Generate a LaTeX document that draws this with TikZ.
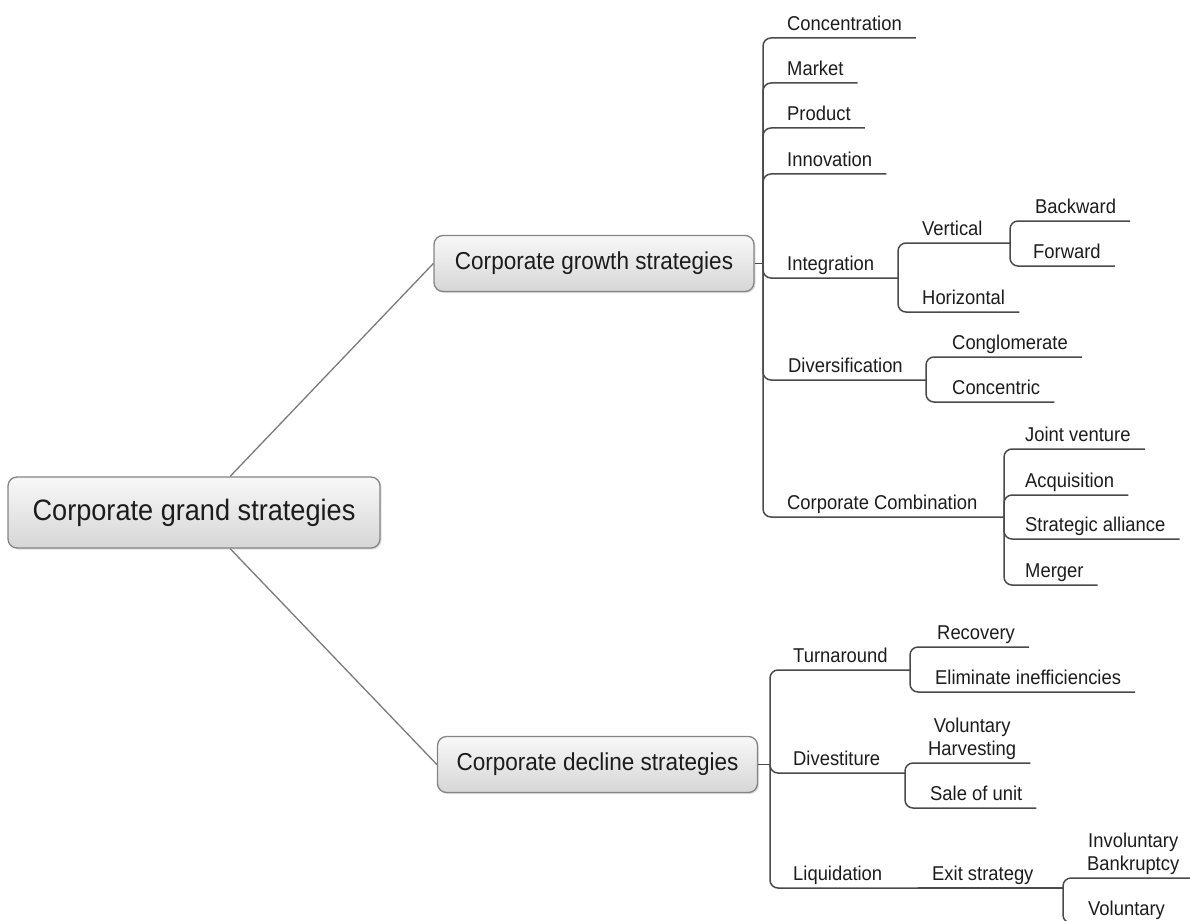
\documentclass[tikz,border=0pt]{standalone}
\usepackage{fontspec}
\setmainfont{Liberation Sans}[FakeStretch=0.92]
\usetikzlibrary{shadows}
\definecolor{linegray}{HTML}{4A4A4A}
\definecolor{spokegray}{HTML}{7A7A7A}
\definecolor{boxedge}{HTML}{848484}
\definecolor{boxtop}{HTML}{F8F8F8}
\definecolor{boxbottom}{HTML}{D6D6D6}
\definecolor{textgray}{HTML}{1C1C1C}

\begin{document}
\begin{tikzpicture}[x=1pt, y=-1pt,
    topic/.style={draw=boxedge, line width=1.3pt, rounded corners=9pt,
      top color=boxtop, bottom color=boxbottom, text=textgray,
      drop shadow={opacity=0.25, shadow xshift=1.5pt, shadow yshift=-1.5pt}},
    rootbox/.style={topic, font=\fontsize{29.5}{32}\selectfont,
      minimum width=372pt, minimum height=71pt},
    mainbox/.style={topic, font=\fontsize{24.5}{27}\selectfont,
      minimum width=320pt, minimum height=56pt},
    leaf/.style={anchor=south west, inner xsep=14pt, inner ysep=7pt,
      text depth=0pt, text=textgray, align=center,
      font=\fontsize{20}{23}\selectfont},
    branch/.style={draw=linegray, line width=1.5pt, rounded corners=8pt},
    spoke/.style={draw=spokegray, line width=1.3pt}]
  \useasboundingbox (0,0) rectangle (1190,920);
  \clip (0,0) rectangle (1190,920);

  % main topics
  \node[rootbox] (root) at (194,512.5) {Corporate grand strategies};
  \node[mainbox] (growth) at (594,263.5) {Corporate growth strategies};
  \node[mainbox] (decline) at (597.5,764.5) {Corporate decline strategies};
  \draw[spoke] (root.45) -- (growth.west);
  \draw[spoke] (root.-45) -- (decline.west);

  % growth
  \node[leaf] (conc) at (773,38) {Concentration};
  \node[leaf] (mark) at (773,83) {Market};
  \node[leaf] (prod) at (773,128) {Product};
  \node[leaf] (innov) at (773,174) {Innovation};
  \node[leaf] (integ) at (773,278) {Integration};
  \node[leaf] (vert) at (908,243) {Vertical};
  \node[leaf] (back) at (1021,221) {Backward};
  \node[leaf] (forw) at (1019,266) {Forward};
  \node[leaf] (horiz) at (908,312) {Horizontal};
  \node[leaf] (divers) at (774,380) {Diversification};
  \node[leaf] (congl) at (938,357) {Conglomerate};
  \node[leaf] (concen) at (938,402) {Concentric};
  \node[leaf] (combi) at (773,517) {Corporate Combination};
  \node[leaf] (joint) at (1011,449) {Joint venture};
  \node[leaf] (acqui) at (1011,495) {Acquisition};
  \node[leaf] (allia) at (1011,539) {Strategic alliance};
  \node[leaf] (merg) at (1011,585) {Merger};

  \coordinate (gj) at (763,263.5);
  \coordinate (intj) at (898,278);
  \coordinate (vertj) at (1010,243);
  \coordinate (divj) at (926,380);
  \coordinate (combj) at (1004,517);
  \draw[branch] (growth.east) -- (gj);
  \foreach \n in {conc,mark,prod,innov}
    \draw[branch] (gj) |- (\n.south east);
  \draw[branch] (gj) |- (integ.south east) -- (intj);
  \draw[branch] (intj) |- (vert.south east) -- (vertj);
  \draw[branch] (intj) |- (horiz.south east);
  \draw[branch] (vertj) |- (back.south east);
  \draw[branch] (vertj) |- (forw.south east);
  \draw[branch] (gj) |- (divers.south east) -- (divj);
  \draw[branch] (divj) |- (congl.south east);
  \draw[branch] (divj) |- (concen.south east);
  \draw[branch] (gj) |- (combi.south east) -- (combj);
  \foreach \n in {joint,acqui,allia,merg}
    \draw[branch] (combj) |- (\n.south east);

  % decline
  \node[leaf] (turn) at (779,670) {Turnaround};
  \node[leaf] (recov) at (923,647) {Recovery};
  \node[leaf] (elim) at (921,692) {Eliminate inefficiencies};
  \node[leaf] (dives) at (779,773) {Divestiture};
  \node[leaf] (harv) at (914,763) {Voluntary\\Harvesting};
  \node[leaf] (sale) at (916,808) {Sale of unit};
  \node[leaf] (liqu) at (779,888) {Liquidation};
  \node[leaf] (exit) at (918,888) {Exit strategy};
  \node[leaf] (invol) at (1073,878) {Involuntary\\Bankruptcy};
  \node[leaf] (volun) at (1074,923) {Voluntary};

  \coordinate (dj) at (770,764.5);
  \coordinate (turnj) at (910,670);
  \coordinate (divej) at (905,773);
  \coordinate (exitj) at (1063,888);
  \draw[branch] (decline.east) -- (dj);
  \draw[branch] (dj) |- (turn.south east) -- (turnj);
  \draw[branch] (turnj) |- (recov.south east);
  \draw[branch] (turnj) |- (elim.south east);
  \draw[branch] (dj) |- (dives.south east) -- (divej);
  \draw[branch] (divej) |- (harv.south east);
  \draw[branch] (divej) |- (sale.south east);
  \draw[branch] (dj) |- (liqu.south east) -- (exit.south west);
  \draw[branch] (exit.south west) -- (exitj);
  \draw[branch] (exitj) |- (invol.south east);
  \draw[branch] (exitj) |- (volun.south east);
\end{tikzpicture}
\end{document}
